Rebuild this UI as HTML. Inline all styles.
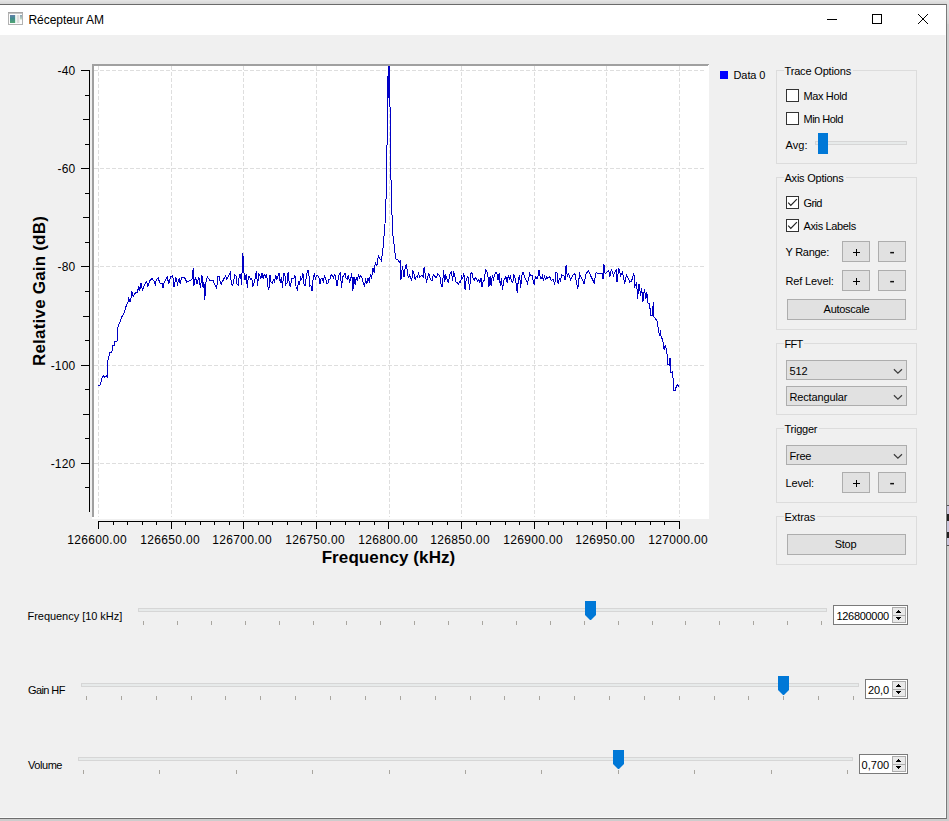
<!DOCTYPE html>
<html><head><meta charset="utf-8"><title>Récepteur AM</title>
<style>
html,body{margin:0;padding:0;}
body{width:949px;height:821px;position:relative;overflow:hidden;background:#cdcdcd;font-family:"Liberation Sans",sans-serif;font-size:11px;color:#000;}
.abs{position:absolute}
#top{position:absolute;left:0;top:0;width:949px;height:4px;background:linear-gradient(#e6e6e6,#d6d6d6)}
#win{position:absolute;left:0;top:4px;width:946px;height:813px;background:#f0f0f0;border-top:1px solid #6b6b6b;border-right:1px solid #7a7a7a;border-bottom:1px solid #6e6e6e;}
#tb{position:absolute;left:0;top:5px;width:946px;height:30px;background:#fff}
#ttl{position:absolute;left:28.5px;top:13px;font-size:12px;line-height:15px;letter-spacing:-0.05px;white-space:pre}
.xl{position:absolute;top:533px;width:80px;text-align:center;font-size:12px;line-height:15px;letter-spacing:0.32px;text-indent:0.3px;white-space:pre}
.yl{position:absolute;left:19.5px;width:56px;text-align:right;font-size:12px;line-height:15px;letter-spacing:0.2px;white-space:pre}
.lb{position:absolute;line-height:13px;white-space:pre}
.tk{position:absolute;width:1px;height:4px;background:#a9a6a0}
.gr{position:absolute;height:2px;border:1px solid #d6d6d6;background:#e7eaea}
.gb{position:absolute;left:776px;width:139px;border:1px solid #dcdcdc}
.gt{position:absolute;left:784px;height:13px;line-height:13px;background:#f0f0f0;padding-left:0.5px;white-space:pre;overflow:hidden}
.cb{position:absolute;width:11px;height:11px;border:1px solid #333;background:#fff}
.btn{position:absolute;height:19px;line-height:19px;border:1px solid #adadad;background:#e1e1e1;text-align:center;white-space:pre}
.combo{position:absolute;width:119px;height:18px;border:1px solid #adadad;background:#e1e1e1}
.combo span{position:absolute;left:2.5px;top:4px;line-height:13px;white-space:pre}
.spin{position:absolute;height:18px;border:1px solid #7a7a7a;background:#fff}
.spin span{position:absolute;top:4px;line-height:13px;white-space:pre}
.sb{position:absolute;right:1px;width:12px;height:8px;background:#e1e1e1;border:1px solid #c4c4c4;box-sizing:border-box;display:block;height:8px}
</style></head><body>
<div id="top"></div>
<div id="win"></div>
<div id="tb"></div>
<!-- background window sliver on right -->
<div class="abs" style="left:947px;top:0;width:2px;height:24px;background:linear-gradient(#e4e4e4,#d4d4d4)"></div>
<div class="abs" style="left:947px;top:505px;width:2px;height:41px;background:#c9c5dc;border-top:1px solid #555;border-bottom:1px solid #555;box-sizing:border-box"></div>
<div class="abs" style="left:947px;top:514px;width:2px;height:7px;background:#222"></div>
<div class="abs" style="left:947px;top:532px;width:2px;height:6px;background:#222"></div>
<div class="abs" style="left:0;top:817px;width:946px;height:1px;background:#fafafa"></div>
<div class="abs" style="left:945px;top:35px;width:1px;height:783px;background:#f8f8f8"></div>

<!-- title bar -->
<svg class="abs" style="left:8px;top:12px" width="15" height="13"><defs><linearGradient id="g1" x1="0" y1="0" x2="0" y2="1"><stop offset="0" stop-color="#6480ac"/><stop offset="0.45" stop-color="#3f8c8c"/><stop offset="1" stop-color="#52a672"/></linearGradient><linearGradient id="g2" x1="0" y1="0" x2="0" y2="1"><stop offset="0" stop-color="#8aa2b4"/><stop offset="1" stop-color="#c4dcc4"/></linearGradient></defs><rect x="0" y="0" width="15" height="13" fill="#b2b2b2"/><rect x="1" y="2" width="13" height="10" fill="#fcfcfc"/><rect x="0" y="0" width="15" height="1" fill="#a6a6a6"/><rect x="1" y="1" width="13" height="1" fill="#c4c4c4"/><rect x="2" y="3" width="5" height="8" fill="url(#g1)"/><rect x="7" y="3" width="1.4" height="8" fill="#d8ece4"/><rect x="9" y="3" width="2.4" height="8" fill="#dedcdc"/><rect x="12" y="3" width="2" height="4.5" fill="url(#g2)"/></svg>
<div id="ttl">Récepteur AM</div>
<svg class="abs" style="left:820px;top:8px" width="120" height="24" shape-rendering="crispEdges"><rect x="7" y="11" width="10" height="1" fill="#000"/><rect x="52.5" y="6.5" width="9" height="9" fill="none" stroke="#000"/><path d="M98,6L108,16M108,6L98,16" stroke="#000" stroke-width="1" shape-rendering="auto" fill="none"/></svg>

<!-- plot -->
<svg style="position:absolute;left:92px;top:64px" width="617" height="455" viewBox="0 0 617 455" shape-rendering="crispEdges"><rect x="0" y="0" width="617" height="455" fill="#fff"/><line x1="6.5" y1="2" x2="6.5" y2="453" stroke="#dedede" stroke-width="1" stroke-dasharray="4 2"/><line x1="79.5" y1="2" x2="79.5" y2="453" stroke="#dedede" stroke-width="1" stroke-dasharray="4 2"/><line x1="151.5" y1="2" x2="151.5" y2="453" stroke="#dedede" stroke-width="1" stroke-dasharray="4 2"/><line x1="224.5" y1="2" x2="224.5" y2="453" stroke="#dedede" stroke-width="1" stroke-dasharray="4 2"/><line x1="297.5" y1="2" x2="297.5" y2="453" stroke="#dedede" stroke-width="1" stroke-dasharray="4 2"/><line x1="369.5" y1="2" x2="369.5" y2="453" stroke="#dedede" stroke-width="1" stroke-dasharray="4 2"/><line x1="442.5" y1="2" x2="442.5" y2="453" stroke="#dedede" stroke-width="1" stroke-dasharray="4 2"/><line x1="514.5" y1="2" x2="514.5" y2="453" stroke="#dedede" stroke-width="1" stroke-dasharray="4 2"/><line x1="587.5" y1="2" x2="587.5" y2="453" stroke="#dedede" stroke-width="1" stroke-dasharray="4 2"/><line x1="2" y1="6.5" x2="612" y2="6.5" stroke="#dedede" stroke-width="1" stroke-dasharray="4 2"/><line x1="2" y1="104.5" x2="612" y2="104.5" stroke="#dedede" stroke-width="1" stroke-dasharray="4 2"/><line x1="2" y1="202.5" x2="612" y2="202.5" stroke="#dedede" stroke-width="1" stroke-dasharray="4 2"/><line x1="2" y1="301.5" x2="612" y2="301.5" stroke="#dedede" stroke-width="1" stroke-dasharray="4 2"/><line x1="2" y1="399.5" x2="612" y2="399.5" stroke="#dedede" stroke-width="1" stroke-dasharray="4 2"/><svg x="2" y="2" width="613" height="451" viewBox="2 2 613 451"><path d="M6.3,321.6 L8.0,321.3 L10.2,313.6 L11.4,311.9 L13.0,313.3 L14.3,311.6 L15.3,312.8 L15.6,297.4 L17.7,288.9 L19.9,288.6 L20.4,282.0 L22.1,281.7 L22.8,277.8 L25.0,277.5 L25.4,264.2 L27.6,259.0 L30.1,252.2 L31.8,250.5 L32.3,248.0 L34.4,241.2 L36.1,237.8 L36.6,233.5 L37.8,237.8 L38.6,237.8 L39.8,227.5 L41.2,232.6 L42.9,229.2 L45.5,228.4 L46.7,221.6 L47.7,226.7 L48.9,219.0 L50.6,226.7 L52.3,220.7 L54.8,217.3 L55.7,223.3 L57.4,217.3 L60.0,214.7 L61.7,216.5 L63.4,220.7 L64.2,215.6 L66.4,213.9 L67.6,219.0 L70.2,219.9 L71.0,224.1 L72.2,218.2 L75.3,213.0 L76.7,219.9 L78.7,213.0 L80.7,211.3 L82.1,223.3 L83.8,213.0 L85.5,219.9 L87.2,213.9 L88.1,219.9 L89.8,213.0 L92.3,213.0 L94.9,218.2 L97.4,216.5 L100.0,215.6 L101.2,204.5 L101.7,222.4 L103.4,213.0 L105.1,219.9 L106.8,213.0 L108.5,224.1 L109.9,211.3 L111.1,224.1 L111.9,218.2 L112.8,236.0 L113.6,219.9 L115.3,213.0 L117.9,216.5 L121.3,216.5 L122.4,219.8 L123.5,222.3 L124.7,224.7 L125.8,212.9 L126.9,211.9 L128.1,217.4 L129.2,220.0 L130.3,217.6 L131.5,215.6 L132.6,213.2 L133.7,212.0 L134.9,215.4 L136.0,213.1 L137.2,210.8 L138.3,208.8 L139.4,219.4 L140.6,221.6 L141.7,216.7 L142.8,210.9 L144.0,211.6 L145.1,220.4 L146.2,220.9 L147.4,210.8 L148.5,210.3 L149.6,220.8 L150.8,188.6 L151.9,208.0 L153.0,215.8 L154.2,209.7 L155.3,223.5 L156.4,212.6 L157.6,212.9 L158.7,215.4 L159.9,214.8 L161.0,222.5 L162.1,218.7 L163.3,213.8 L164.4,206.8 L165.5,221.8 L166.7,210.4 L167.8,211.5 L168.9,214.8 L170.1,209.0 L171.2,214.7 L172.3,210.5 L173.5,212.9 L174.6,209.9 L175.7,221.4 L176.9,226.0 L178.0,211.0 L179.1,218.7 L180.3,219.2 L181.4,215.6 L182.6,217.9 L183.7,211.1 L184.8,215.4 L186.0,212.1 L187.1,208.8 L188.2,218.8 L189.4,213.3 L190.5,224.0 L191.6,209.9 L192.8,209.9 L193.9,220.3 L195.0,218.7 L196.2,207.8 L197.3,220.4 L198.4,223.4 L199.6,214.1 L200.7,214.4 L201.8,214.2 L203.0,211.6 L204.1,223.5 L205.3,225.9 L206.4,217.8 L207.5,219.8 L208.7,213.1 L209.8,215.1 L210.9,209.1 L212.1,220.9 L213.2,221.6 L214.3,212.8 L215.5,207.0 L216.6,206.8 L217.7,221.8 L218.9,221.0 L220.0,227.1 L221.1,214.9 L222.3,209.3 L223.4,215.0 L224.5,211.7 L225.7,211.4 L226.8,212.6 L228.0,219.5 L229.1,214.4 L230.2,214.7 L231.4,218.5 L232.5,211.0 L233.6,214.8 L234.8,219.5 L235.9,219.2 L237.0,215.5 L238.2,214.9 L239.3,210.4 L240.4,211.8 L241.6,213.9 L242.7,210.0 L243.8,214.7 L245.0,222.4 L246.1,215.6 L247.2,209.6 L248.4,208.9 L249.5,224.0 L250.7,213.0 L251.8,211.3 L252.9,209.0 L254.1,214.4 L255.2,215.3 L256.3,211.5 L257.5,218.0 L258.6,216.4 L259.7,208.8 L260.9,226.6 L262.0,213.3 L263.1,220.6 L264.3,212.8 L265.4,217.2 L266.5,210.2 L267.7,213.7 L268.8,211.2 L269.9,213.9 L272.4,222.6 L273.6,216.0 L274.8,219.5 L276.0,214.0 L277.2,217.5 L278.4,211.0 L279.6,214.0 L281.0,204.0 L282.2,208.5 L283.4,198.0 L284.8,202.0 L286.4,192.0 L287.9,194.5 L289.4,197.0 L291.1,183.0 L292.1,171.4 L293.0,159.7 L293.8,143.7 L294.7,107.0 L295.6,34.0 L296.9,-34.0 L297.9,34.0 L298.8,107.0 L299.7,143.7 L300.9,171.4 L301.9,179.0 L303.0,189.0 L303.8,195.0 L306.0,196.0 L307.4,198.5 L308.4,197.0 L309.0,215.5 L310.4,202.0 L312.0,213.0 L313.2,204.0 L314.4,200.0 L315.2,206.1 L316.3,213.6 L317.5,211.3 L318.6,214.1 L319.7,216.1 L320.9,207.2 L322.0,209.6 L323.1,215.9 L324.3,212.2 L325.4,213.1 L326.5,209.5 L327.7,213.2 L328.8,212.0 L330.0,211.7 L331.1,212.8 L332.2,202.9 L333.4,212.5 L334.5,217.7 L335.6,214.2 L336.8,209.1 L337.9,214.0 L339.0,216.0 L340.2,216.6 L341.3,210.2 L342.4,211.4 L343.6,213.7 L344.7,213.3 L345.8,209.5 L347.0,210.8 L348.1,213.1 L349.2,221.6 L350.4,222.7 L351.5,206.4 L352.7,217.6 L353.8,211.6 L354.9,214.3 L356.1,218.5 L357.2,214.7 L358.3,208.4 L359.5,208.0 L360.6,216.8 L361.7,207.4 L362.9,212.3 L364.0,218.1 L365.1,218.1 L366.3,220.2 L367.4,217.9 L368.5,218.5 L369.7,212.2 L370.8,214.5 L371.9,209.1 L373.1,226.0 L374.2,215.4 L375.4,213.0 L376.5,213.8 L377.6,226.0 L378.8,209.6 L379.9,208.8 L381.0,214.1 L382.2,216.1 L383.3,213.9 L384.4,214.5 L385.6,216.8 L386.7,215.6 L387.8,218.8 L389.0,214.0 L390.1,223.2 L391.2,216.8 L392.4,216.1 L393.5,205.6 L394.6,207.3 L395.8,210.2 L396.9,223.0 L398.1,212.5 L399.2,222.4 L400.3,210.7 L401.5,215.1 L402.6,211.4 L403.7,208.6 L404.9,209.0 L406.0,215.7 L407.1,209.5 L408.3,222.0 L409.4,214.0 L410.5,226.4 L411.7,216.7 L412.8,214.9 L413.9,212.6 L415.1,218.5 L416.2,211.4 L417.3,215.0 L418.5,212.6 L419.6,217.1 L420.8,218.3 L421.9,210.3 L423.0,214.4 L424.2,219.9 L425.3,229.0 L426.4,214.4 L427.6,211.4 L428.7,224.0 L429.8,211.2 L431.0,208.4 L432.1,211.6 L433.2,214.7 L434.4,216.3 L435.5,219.1 L436.6,215.0 L437.8,209.3 L438.9,211.7 L440.0,210.9 L441.2,217.4 L442.3,221.0 L443.5,211.8 L444.6,214.6 L445.7,213.9 L446.9,205.7 L448.0,212.2 L449.1,215.2 L450.3,211.8 L451.4,216.6 L452.5,212.4 L453.7,215.4 L454.8,212.8 L455.9,214.4 L457.1,212.9 L458.2,213.2 L459.3,216.6 L460.5,215.7 L461.6,215.5 L462.7,221.1 L463.9,208.5 L465.0,208.9 L466.2,220.4 L467.3,214.9 L468.4,216.7 L469.6,210.7 L470.7,211.8 L471.8,211.6 L473.0,215.9 L474.1,201.3 L475.2,212.2 L476.4,209.6 L477.5,212.4 L478.6,215.4 L479.8,213.4 L480.9,211.0 L483.0,209.7 L485.7,225.3 L487.6,209.7 L492.1,219.8 L494.0,209.7 L496.7,207.0 L499.4,213.4 L502.2,218.9 L504.0,208.8 L506.7,209.7 L510.4,209.7 L511.0,215.2 L511.9,199.7 L513.1,209.7 L516.8,206.1 L517.7,213.4 L519.5,205.2 L521.4,211.6 L524.1,206.1 L525.0,218.0 L526.8,204.3 L528.7,211.6 L530.5,207.9 L532.7,219.8 L534.5,210.7 L537.8,218.0 L539.6,217.0 L541.8,208.8 L542.9,222.5 L544.7,218.9 L545.6,235.3 L546.9,219.8 L548.7,231.7 L549.7,224.4 L550.9,238.0 L552.4,225.3 L553.9,235.3 L554.8,228.0 L556.0,239.0 L557.5,239.9 L558.8,251.8 L560.6,251.8 L561.2,238.0 L561.5,252.7 L563.4,254.5 L565.2,257.2 L566.6,266.4 L567.4,271.8 L568.5,266.4 L569.2,273.7 L570.7,275.5 L572.1,285.5 L573.4,281.0 L574.9,288.3 L575.8,300.2 L577.1,301.0 L578.0,293.8 L578.9,308.4 L580.7,307.5 L581.6,326.6 L583.1,326.6 L584.4,322.1 L585.8,320.8 L586.7,322.6" fill="none" stroke="#0000c4" stroke-width="1" stroke-linejoin="miter" shape-rendering="crispEdges"/><rect x="296" y="2" width="2" height="32" fill="#0000c8"/></svg><path d="M0,0H617L615,2H0Z" fill="#a0a0a0"/><rect x="0" y="0" width="2" height="453" fill="#a0a0a0"/></svg>
<svg style="position:absolute;left:0;top:0" width="949" height="821" shape-rendering="crispEdges"><rect x="89" y="70" width="1" height="442" fill="#000"/><rect x="81" y="70" width="8" height="1" fill="#000"/><rect x="85" y="95" width="4" height="1" fill="#000"/><rect x="83" y="119" width="6" height="1" fill="#000"/><rect x="85" y="144" width="4" height="1" fill="#000"/><rect x="81" y="168" width="8" height="1" fill="#000"/><rect x="85" y="193" width="4" height="1" fill="#000"/><rect x="83" y="217" width="6" height="1" fill="#000"/><rect x="85" y="242" width="4" height="1" fill="#000"/><rect x="81" y="266" width="8" height="1" fill="#000"/><rect x="85" y="291" width="4" height="1" fill="#000"/><rect x="83" y="316" width="6" height="1" fill="#000"/><rect x="85" y="340" width="4" height="1" fill="#000"/><rect x="81" y="365" width="8" height="1" fill="#000"/><rect x="85" y="389" width="4" height="1" fill="#000"/><rect x="83" y="414" width="6" height="1" fill="#000"/><rect x="85" y="438" width="4" height="1" fill="#000"/><rect x="81" y="463" width="8" height="1" fill="#000"/><rect x="85" y="487" width="4" height="1" fill="#000"/><rect x="98" y="521" width="582" height="1" fill="#000"/><rect x="98" y="521" width="1" height="8" fill="#000"/><rect x="113" y="521" width="1" height="4" fill="#000"/><rect x="127" y="521" width="1" height="4" fill="#000"/><rect x="142" y="521" width="1" height="4" fill="#000"/><rect x="156" y="521" width="1" height="4" fill="#000"/><rect x="171" y="521" width="1" height="8" fill="#000"/><rect x="185" y="521" width="1" height="4" fill="#000"/><rect x="200" y="521" width="1" height="4" fill="#000"/><rect x="214" y="521" width="1" height="4" fill="#000"/><rect x="229" y="521" width="1" height="4" fill="#000"/><rect x="243" y="521" width="1" height="8" fill="#000"/><rect x="258" y="521" width="1" height="4" fill="#000"/><rect x="272" y="521" width="1" height="4" fill="#000"/><rect x="287" y="521" width="1" height="4" fill="#000"/><rect x="301" y="521" width="1" height="4" fill="#000"/><rect x="316" y="521" width="1" height="8" fill="#000"/><rect x="330" y="521" width="1" height="4" fill="#000"/><rect x="345" y="521" width="1" height="4" fill="#000"/><rect x="359" y="521" width="1" height="4" fill="#000"/><rect x="374" y="521" width="1" height="4" fill="#000"/><rect x="388" y="521" width="1" height="8" fill="#000"/><rect x="403" y="521" width="1" height="4" fill="#000"/><rect x="418" y="521" width="1" height="4" fill="#000"/><rect x="432" y="521" width="1" height="4" fill="#000"/><rect x="447" y="521" width="1" height="4" fill="#000"/><rect x="461" y="521" width="1" height="8" fill="#000"/><rect x="476" y="521" width="1" height="4" fill="#000"/><rect x="490" y="521" width="1" height="4" fill="#000"/><rect x="505" y="521" width="1" height="4" fill="#000"/><rect x="519" y="521" width="1" height="4" fill="#000"/><rect x="534" y="521" width="1" height="8" fill="#000"/><rect x="548" y="521" width="1" height="4" fill="#000"/><rect x="563" y="521" width="1" height="4" fill="#000"/><rect x="577" y="521" width="1" height="4" fill="#000"/><rect x="592" y="521" width="1" height="4" fill="#000"/><rect x="606" y="521" width="1" height="8" fill="#000"/><rect x="621" y="521" width="1" height="4" fill="#000"/><rect x="635" y="521" width="1" height="4" fill="#000"/><rect x="650" y="521" width="1" height="4" fill="#000"/><rect x="664" y="521" width="1" height="4" fill="#000"/><rect x="679" y="521" width="1" height="8" fill="#000"/></svg>
<div class="xl" style="left:57.0px">126600.00</div><div class="xl" style="left:130.0px">126650.00</div><div class="xl" style="left:202.0px">126700.00</div><div class="xl" style="left:275.0px">126750.00</div><div class="xl" style="left:348.0px">126800.00</div><div class="xl" style="left:420.0px">126850.00</div><div class="xl" style="left:493.0px">126900.00</div><div class="xl" style="left:565.0px">126950.00</div><div class="xl" style="left:638.0px">127000.00</div><div class="yl" style="top:64px">-40</div><div class="yl" style="top:162px">-60</div><div class="yl" style="top:260px">-80</div><div class="yl" style="top:359px">-100</div><div class="yl" style="top:457px">-120</div>
<div class="abs" id="xt" style="left:288.5px;top:548px;width:200px;text-align:center;font-weight:bold;font-size:17px;line-height:20px;letter-spacing:0.1px;white-space:pre">Frequency (kHz)</div>
<div class="abs" id="yt" style="left:-60px;top:281px;width:200px;height:20px;text-align:center;font-weight:bold;font-size:17px;line-height:20px;letter-spacing:0.2px;white-space:pre;transform:rotate(-90deg);transform-origin:center">Relative Gain (dB)</div>

<!-- legend -->
<div class="abs" style="left:720px;top:71px;width:8px;height:8px;background:#0000ff"></div>
<div class="lb" style="left:733.5px;top:69px;letter-spacing:-0.09px;">Data 0</div>

<!-- Trace options -->
<div class="gb" style="top:70px;height:92px"></div><div class="gt" style="top:65px;width:68px;letter-spacing:-0.17px">Trace Options</div>
<div class="cb" style="left:786px;top:89px"></div><div class="lb" style="left:803.5px;top:90px;letter-spacing:-0.37px;">Max Hold</div>
<div class="cb" style="left:786px;top:112px"></div><div class="lb" style="left:803.5px;top:113px;letter-spacing:-0.51px;">Min Hold</div>
<div class="lb" style="left:785.5px;top:139px;letter-spacing:0.05px;">Avg:</div>
<div class="gr" style="left:815px;top:141px;width:90px"></div>
<div class="abs" style="left:818px;top:133px;width:10px;height:21px;background:#0078d7"></div>

<!-- Axis options -->
<div class="gb" style="top:177px;height:151px"></div><div class="gt" style="top:172px;width:61px;letter-spacing:-0.23px">Axis Options</div>
<div class="cb" style="left:786px;top:196px"><svg width="11" height="11" style="position:absolute;left:0;top:0"><path d="M1.2,5.7L3.8,8.4L9.9,2.2" fill="none" stroke="#222" stroke-width="1.2"/></svg></div><div class="lb" style="left:803.5px;top:197px;letter-spacing:-0.67px;">Grid</div>
<div class="cb" style="left:786px;top:219px"><svg width="11" height="11" style="position:absolute;left:0;top:0"><path d="M1.2,5.7L3.8,8.4L9.9,2.2" fill="none" stroke="#222" stroke-width="1.2"/></svg></div><div class="lb" style="left:803.5px;top:220px;letter-spacing:-0.36px;">Axis Labels</div>
<div class="lb" style="left:785.5px;top:246px;letter-spacing:-0.27px;">Y Range:</div><div class="btn" style="left:842px;top:241px;width:26px;letter-spacing:0px;text-indent:0px"><svg class="abs" style="left:10px;top:7px" width="8" height="8" shape-rendering="crispEdges"><rect x="0" y="3" width="7" height="1" fill="#000"/><rect x="3" y="0" width="1" height="7" fill="#000"/></svg></div><div class="btn" style="left:878px;top:241px;width:26px;letter-spacing:0px;text-indent:0px"><svg class="abs" style="left:11px;top:9px" width="6" height="4"><rect x="0.2" y="0.9" width="3.8" height="1.5" fill="#111"/></svg></div>
<div class="lb" style="left:785.5px;top:275px;letter-spacing:-0.14px;">Ref Level:</div><div class="btn" style="left:842px;top:270px;width:26px;letter-spacing:0px;text-indent:0px"><svg class="abs" style="left:10px;top:7px" width="8" height="8" shape-rendering="crispEdges"><rect x="0" y="3" width="7" height="1" fill="#000"/><rect x="3" y="0" width="1" height="7" fill="#000"/></svg></div><div class="btn" style="left:878px;top:270px;width:26px;letter-spacing:0px;text-indent:0px"><svg class="abs" style="left:11px;top:9px" width="6" height="4"><rect x="0.2" y="0.9" width="3.8" height="1.5" fill="#111"/></svg></div>
<div class="btn" style="left:787px;top:299px;width:117px;letter-spacing:-0.28px;text-indent:0px">Autoscale</div>

<!-- FFT -->
<div class="gb" style="top:343px;height:70px"></div><div class="gt" style="top:338px;width:19px;letter-spacing:-0.7px">FFT</div>
<div class="combo" style="left:786px;top:360px"><span style="letter-spacing:-0.15px">512</span><svg class="abs" style="left:106px;top:6.5px" width="10" height="7"><path d="M0.9,1.2L4.9,5.1L9,1.2" fill="none" stroke="#3c3c3c" stroke-width="1.2"/></svg></div>
<div class="combo" style="left:786px;top:386px"><span style="letter-spacing:-0.15px">Rectangular</span><svg class="abs" style="left:106px;top:6.5px" width="10" height="7"><path d="M0.9,1.2L4.9,5.1L9,1.2" fill="none" stroke="#3c3c3c" stroke-width="1.2"/></svg></div>

<!-- Trigger -->
<div class="gb" style="top:428px;height:73px"></div><div class="gt" style="top:423px;width:34px;letter-spacing:-0.25px">Trigger</div>
<div class="combo" style="left:786px;top:445px"><span style="letter-spacing:-0.23px">Free</span><svg class="abs" style="left:106px;top:6.5px" width="10" height="7"><path d="M0.9,1.2L4.9,5.1L9,1.2" fill="none" stroke="#3c3c3c" stroke-width="1.2"/></svg></div>
<div class="lb" style="left:785.5px;top:477px;letter-spacing:-0.16px;">Level:</div><div class="btn" style="left:842px;top:472px;width:26px;letter-spacing:0px;text-indent:0px"><svg class="abs" style="left:10px;top:7px" width="8" height="8" shape-rendering="crispEdges"><rect x="0" y="3" width="7" height="1" fill="#000"/><rect x="3" y="0" width="1" height="7" fill="#000"/></svg></div><div class="btn" style="left:878px;top:472px;width:26px;letter-spacing:0px;text-indent:0px"><svg class="abs" style="left:11px;top:9px" width="6" height="4"><rect x="0.2" y="0.9" width="3.8" height="1.5" fill="#111"/></svg></div>

<!-- Extras -->
<div class="gb" style="top:516px;height:47px"></div><div class="gt" style="top:511px;width:32px;letter-spacing:-0.06px">Extras</div>
<div class="btn" style="left:787px;top:534px;width:117px;letter-spacing:-0.24px;text-indent:-2px">Stop</div>

<!-- sliders -->
<div class="lb" style="left:27.5px;top:610px;letter-spacing:-0.04px;">Frequency [10 kHz]</div>
<div class="gr" style="left:138px;top:608px;width:687px"></div>
<i class="tk" style="left:143px;top:621px"></i><i class="tk" style="left:177px;top:621px"></i><i class="tk" style="left:211px;top:621px"></i><i class="tk" style="left:245px;top:621px"></i><i class="tk" style="left:279px;top:621px"></i><i class="tk" style="left:313px;top:621px"></i><i class="tk" style="left:346px;top:621px"></i><i class="tk" style="left:380px;top:621px"></i><i class="tk" style="left:414px;top:621px"></i><i class="tk" style="left:448px;top:621px"></i><i class="tk" style="left:482px;top:621px"></i><i class="tk" style="left:516px;top:621px"></i><i class="tk" style="left:550px;top:621px"></i><i class="tk" style="left:584px;top:621px"></i><i class="tk" style="left:618px;top:621px"></i><i class="tk" style="left:652px;top:621px"></i><i class="tk" style="left:685px;top:621px"></i><i class="tk" style="left:719px;top:621px"></i><i class="tk" style="left:753px;top:621px"></i><i class="tk" style="left:787px;top:621px"></i><i class="tk" style="left:821px;top:621px"></i>
<svg class="abs" style="left:585px;top:601px" width="11" height="19"><path d="M0,0H11V14L5.5,19.5L0,14Z" fill="#0078d7"/></svg>
<div class="spin" style="left:833px;top:605px;width:73px"><span style="letter-spacing:-0.31px;left:2.5px">126800000</span><svg class="abs" style="right:1px;top:1px" width="14" height="16" shape-rendering="crispEdges"><rect x="0.5" y="0.5" width="13" height="8" fill="#e9e9e9" stroke="#adadad"/><rect x="0.5" y="8.5" width="13" height="7" fill="#e9e9e9" stroke="#adadad"/><rect x="6" y="3" width="1" height="1" fill="#000"/><rect x="5" y="4" width="3" height="1" fill="#000"/><rect x="4" y="5" width="5" height="1" fill="#000"/><rect x="4" y="10" width="5" height="1" fill="#000"/><rect x="5" y="11" width="3" height="1" fill="#000"/><rect x="6" y="12" width="1" height="1" fill="#000"/></svg></div>

<div class="lb" style="left:28.0px;top:684px;letter-spacing:-0.6px;">Gain HF</div>
<div class="gr" style="left:81px;top:683px;width:776px"></div>
<i class="tk" style="left:86px;top:696px"></i><i class="tk" style="left:121px;top:696px"></i><i class="tk" style="left:156px;top:696px"></i><i class="tk" style="left:191px;top:696px"></i><i class="tk" style="left:225px;top:696px"></i><i class="tk" style="left:260px;top:696px"></i><i class="tk" style="left:295px;top:696px"></i><i class="tk" style="left:330px;top:696px"></i><i class="tk" style="left:365px;top:696px"></i><i class="tk" style="left:400px;top:696px"></i><i class="tk" style="left:435px;top:696px"></i><i class="tk" style="left:470px;top:696px"></i><i class="tk" style="left:504px;top:696px"></i><i class="tk" style="left:539px;top:696px"></i><i class="tk" style="left:574px;top:696px"></i><i class="tk" style="left:609px;top:696px"></i><i class="tk" style="left:644px;top:696px"></i><i class="tk" style="left:679px;top:696px"></i><i class="tk" style="left:714px;top:696px"></i><i class="tk" style="left:748px;top:696px"></i><i class="tk" style="left:783px;top:696px"></i><i class="tk" style="left:818px;top:696px"></i><i class="tk" style="left:853px;top:696px"></i>
<svg class="abs" style="left:778px;top:676px" width="11" height="19"><path d="M0,0H11V14L5.5,19.5L0,14Z" fill="#0078d7"/></svg>
<div class="spin" style="left:865px;top:679px;width:41px"><span style="letter-spacing:-0.06px;left:2px">20,0</span><svg class="abs" style="right:1px;top:1px" width="14" height="16" shape-rendering="crispEdges"><rect x="0.5" y="0.5" width="13" height="8" fill="#e9e9e9" stroke="#adadad"/><rect x="0.5" y="8.5" width="13" height="7" fill="#e9e9e9" stroke="#adadad"/><rect x="6" y="3" width="1" height="1" fill="#000"/><rect x="5" y="4" width="3" height="1" fill="#000"/><rect x="4" y="5" width="5" height="1" fill="#000"/><rect x="4" y="10" width="5" height="1" fill="#000"/><rect x="5" y="11" width="3" height="1" fill="#000"/><rect x="6" y="12" width="1" height="1" fill="#000"/></svg></div>

<div class="lb" style="left:28.0px;top:759px;letter-spacing:-0.44px;">Volume</div>
<div class="gr" style="left:78px;top:757px;width:773px"></div>
<i class="tk" style="left:83px;top:770px"></i><i class="tk" style="left:159px;top:770px"></i><i class="tk" style="left:236px;top:770px"></i><i class="tk" style="left:312px;top:770px"></i><i class="tk" style="left:389px;top:770px"></i><i class="tk" style="left:465px;top:770px"></i><i class="tk" style="left:541px;top:770px"></i><i class="tk" style="left:618px;top:770px"></i><i class="tk" style="left:694px;top:770px"></i><i class="tk" style="left:771px;top:770px"></i><i class="tk" style="left:847px;top:770px"></i>
<svg class="abs" style="left:613px;top:750px" width="11" height="19"><path d="M0,0H11V14L5.5,19.5L0,14Z" fill="#0078d7"/></svg>
<div class="spin" style="left:859px;top:754px;width:47px"><span style="letter-spacing:0.05px;left:1.5px">0,700</span><svg class="abs" style="right:1px;top:1px" width="14" height="16" shape-rendering="crispEdges"><rect x="0.5" y="0.5" width="13" height="8" fill="#e9e9e9" stroke="#adadad"/><rect x="0.5" y="8.5" width="13" height="7" fill="#e9e9e9" stroke="#adadad"/><rect x="6" y="3" width="1" height="1" fill="#000"/><rect x="5" y="4" width="3" height="1" fill="#000"/><rect x="4" y="5" width="5" height="1" fill="#000"/><rect x="4" y="10" width="5" height="1" fill="#000"/><rect x="5" y="11" width="3" height="1" fill="#000"/><rect x="6" y="12" width="1" height="1" fill="#000"/></svg></div>
</body></html>
